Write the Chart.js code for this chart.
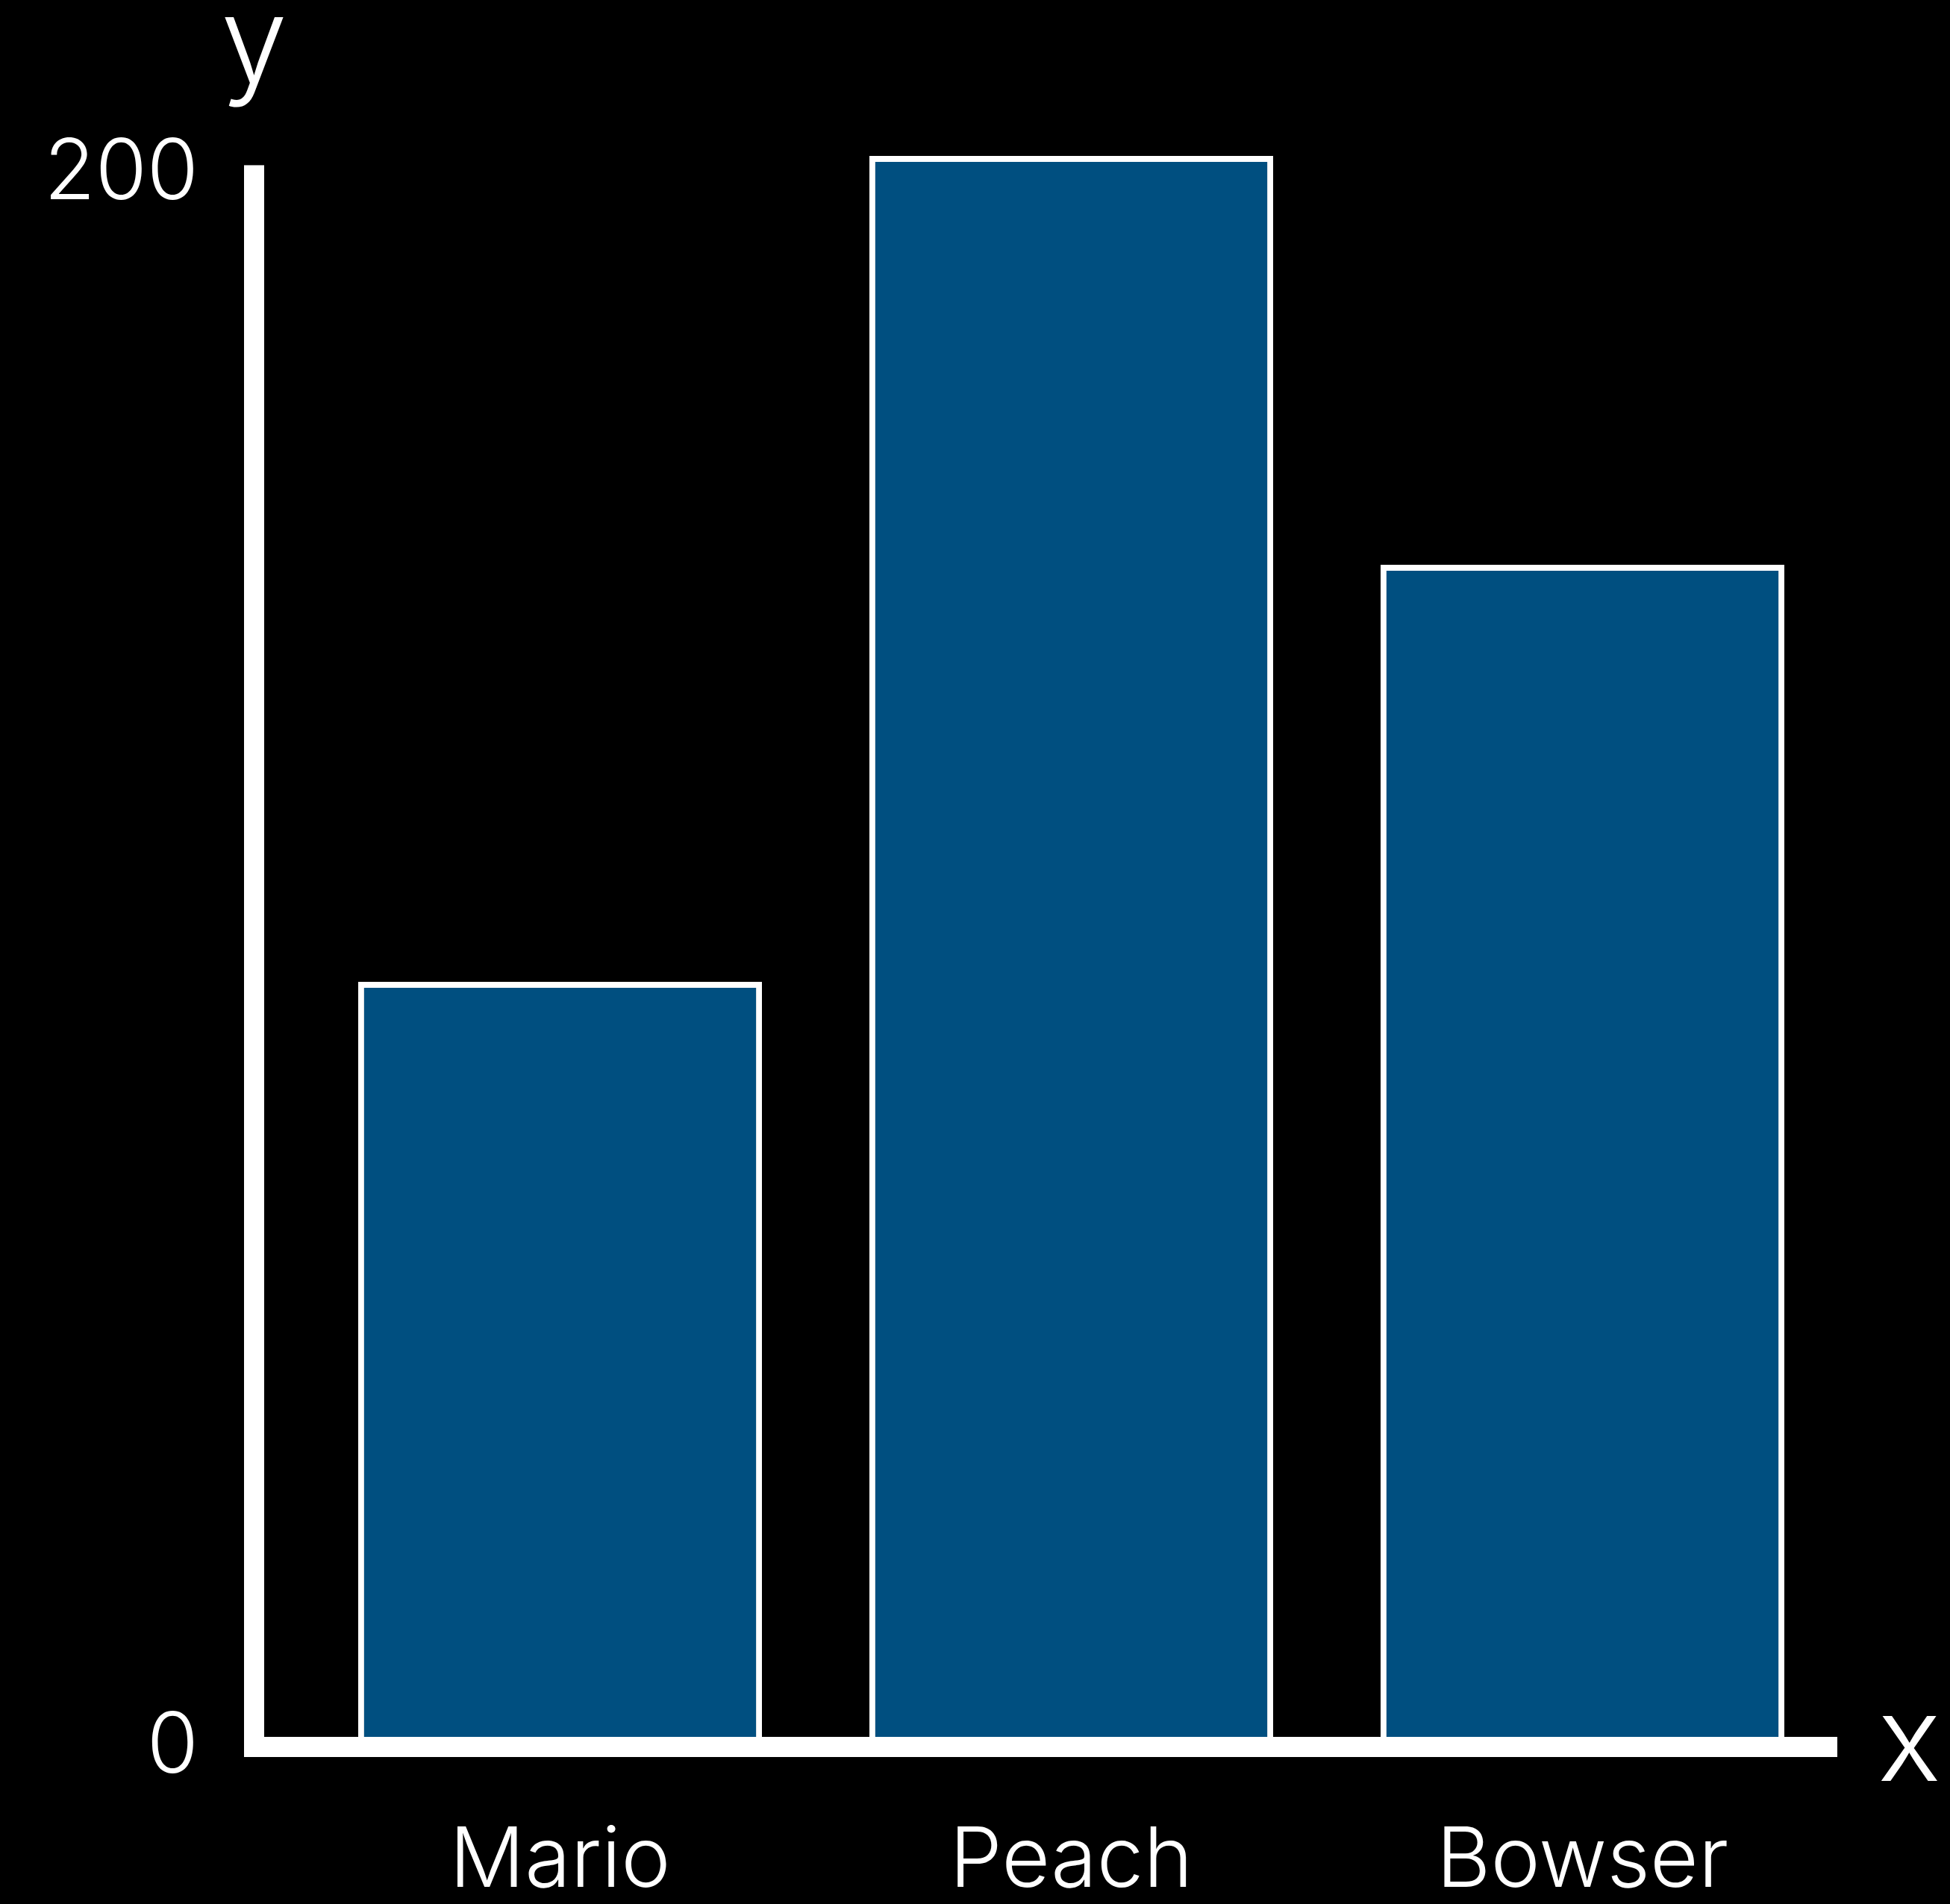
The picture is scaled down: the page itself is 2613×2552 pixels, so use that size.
<!DOCTYPE html>
<html>
<head>
<meta charset="utf-8">
<script src="https://cdn.jsdelivr.net/npm/chart.js@4.4.0/dist/chart.umd.min.js"></script>
<style>
  html, body { margin: 0; padding: 0; background: #000; }
  #wrap { width: 2613px; height: 2552px; }
</style>
</head>
<body>
<div id="wrap"><canvas id="barChart" width="2613" height="2552"></canvas></div>
<script>
// chart data
const categories = ['Mario', 'Peach', 'Bowser'];
const values = [96, 201, 149];
const yTicks = [0, 200];
const axisTitles = ['x', 'y'];

const FONT = 'Inter, Lato, "Open Sans", sans-serif';
const barBlue = '#004F80';

// draws the thick white axes and the x / y titles
const axesPlugin = {
    id: 'axesPlugin',
    afterDatasetsDraw(chart) {
        const ctx = chart.ctx;
        const area = chart.chartArea;
        const yScale = chart.scales.y;
        const thick = 27;
        const axisX = area.left - 81;
        const topY = yScale.getPixelForValue(yTicks[yTicks.length - 1]) + 2;

        ctx.save();
        ctx.fillStyle = '#fff';
        // y axis
        ctx.fillRect(axisX, topY, thick, area.bottom + thick - topY);
        // x axis
        ctx.fillRect(axisX, area.bottom, area.right - axisX - 1, thick);

        ctx.font = '300 160px ' + FONT;
        ctx.textAlign = 'center';
        ctx.textBaseline = 'alphabetic';
        ctx.fillText(axisTitles[1], axisX + thick / 2, 110);
        ctx.textAlign = 'left';
        ctx.fillText(axisTitles[0], area.right + 53, area.bottom + thick / 2 + 45);
        ctx.restore();
    }
};

const ctx = document.getElementById('barChart').getContext('2d');
new Chart(ctx, {
    type: 'bar',
    data: {
        labels: categories,
        datasets: [{
            data: values,
            backgroundColor: barBlue,
            borderColor: '#fff',
            borderWidth: 8,
            categoryPercentage: 1,
            barPercentage: 0.79
        }]
    },
    options: {
        responsive: false,
        animation: false,
        layout: { padding: { top: 114, right: 150, left: 0, bottom: 0 } },
        plugins: {
            legend: { display: false },
            tooltip: { enabled: false }
        },
        scales: {
            x: {
                grid: { display: false, drawTicks: false },
                border: { display: false },
                ticks: {
                    color: '#fff',
                    padding: 100,
                    font: { family: FONT, size: 112, weight: 300 }
                },
                afterFit(scale) { scale.height = 224; }
            },
            y: {
                min: 0,
                max: 210,
                grid: { display: false, drawTicks: false },
                border: { display: false },
                afterBuildTicks(scale) {
                    scale.ticks = yTicks.map(v => ({ value: v }));
                },
                ticks: {
                    color: '#fff',
                    padding: 142,
                    labelOffset: 14,
                    font: { family: FONT, size: 112, weight: 300 }
                },
                afterFit(scale) {
                    scale.width = 408;
                    scale.paddingTop = 0;
                    scale.paddingBottom = 0;
                }
            }
        }
    },
    plugins: [axesPlugin]
});
</script>
</body>
</html>
